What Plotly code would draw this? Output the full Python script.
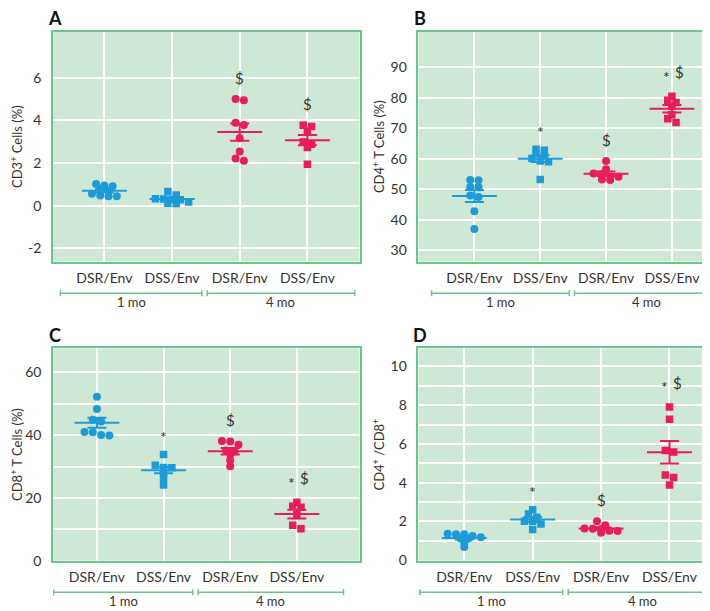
import numpy as np
import plotly.graph_objects as go

groups = ["DSR/Env", "DSS/Env", "DSR/Env", "DSS/Env"]
periods = ["1 mo", "4 mo"]

# panel A: CD3+ cells (%)
cd3_dsr_1mo = [0.79, 0.95, 0.45, 0.92, 0.48, 1.02, 0.45, 0.56, 0.70]
cd3_dss_1mo = [0.30, 0.28, 0.10, 0.67, 0.12, 0.50, 0.18, 0.33, 0.32]
cd3_dsr_4mo = [4.95, 5.00, 3.89, 3.78, 3.16, 2.54, 2.11, 2.22]
cd3_dss_4mo = [3.77, 3.50, 3.71, 2.88, 2.73, 2.99, 1.95]
cd3_marks = ["", "", "$", "$"]

# panel B: CD4+ T cells (%)
cd4_dsr_1mo = [53.0, 53.1, 50.7, 50.8, 47.5, 48.0, 42.8, 37.0]
cd4_dss_1mo = [63.1, 62.8, 61.7, 61.1, 60.1, 59.3, 59.0, 53.2]
cd4_dsr_4mo = [59.3, 56.6, 55.0, 55.2, 54.1, 54.2, 53.2, 53.1]
cd4_dss_4mo = [80.5, 79.2, 78.4, 77.3, 74.4, 73.1, 71.9]
cd4_marks = ["", "*", "$", "*$"]

# panel C: CD8+ T cells (%)
cd8_dsr_1mo = [52.2, 48.3, 44.9, 44.3, 40.9, 41.0, 39.9, 40.0]
cd8_dss_1mo = [33.8, 29.7, 29.1, 29.6, 30.4, 27.8, 26.2, 24.1]
cd8_dsr_4mo = [38.0, 38.1, 36.9, 34.8, 35.1, 33.8, 32.0, 30.1]
cd8_dss_4mo = [18.6, 17.0, 17.3, 14.7, 10.2, 11.3]
cd8_marks = ["", "*", "$", "*$"]

# panel D: CD4+/CD8+ ratio
ratio_dsr_1mo = [1.33, 1.34, 1.36, 1.12, 1.13, 0.90, 0.68, 1.18, 1.25]
ratio_dss_1mo = [2.60, 2.38, 2.21, 2.00, 2.01, 1.87, 1.58]
ratio_dsr_4mo = [2.00, 1.80, 1.62, 1.63, 1.61, 1.50, 1.51, 1.41]
ratio_dss_4mo = [7.91, 7.28, 5.58, 5.66, 4.39, 4.27, 3.88]
ratio_marks = ["", "*", "$", "*$"]

W, H = 710, 611
BG = "#cfe8d5"
BORDER = "#6cc68b"
BLUE = "#1c9bd8"
RED = "#e91c5c"
TXT = "#333333"
FONT = "Lato"

panels = [
    dict(letter="A", data=[cd3_dsr_1mo, cd3_dss_1mo, cd3_dsr_4mo, cd3_dss_4mo], marks=cd3_marks,
         title="CD3<sup>+</sup> Cells (%)", xpx=(45, 352), ypx=(24, 257),
         xr=[-0.76, 3.77], yr=[-2.62, 8.16], labels=[-2, 0, 2, 4, 6], minor=[]),
    dict(letter="B", data=[cd4_dsr_1mo, cd4_dss_1mo, cd4_dsr_4mo, cd4_dss_4mo], marks=cd4_marks,
         title="CD4<sup>+</sup> T Cells (%)", xpx=(411, 709), ypx=(24, 257),
         xr=[-0.85, 3.67], yr=[26.35, 101.6], labels=[30, 40, 50, 60, 70, 80, 90], minor=[]),
    dict(letter="C", data=[cd8_dsr_1mo, cd8_dss_1mo, cd8_dsr_4mo, cd8_dss_4mo], marks=cd8_marks,
         title="CD8<sup>+</sup> T Cells (%)", xpx=(45, 352), ypx=(345, 560),
         xr=[-0.66, 3.94], yr=[0, 67.6], labels=[0, 20, 40, 60], minor=[10, 30, 50]),
    dict(letter="D", data=[ratio_dsr_1mo, ratio_dss_1mo, ratio_dsr_4mo, ratio_dss_4mo], marks=ratio_marks,
         title="CD4<sup>+</sup> /CD8<sup>+</sup>", xpx=(411, 709), ypx=(345, 560),
         xr=[-0.67, 3.68], yr=[-0.03, 10.93], labels=[0, 2, 4, 6, 8, 10], minor=[1, 3, 5, 7, 9]),
]


def swarm(vals, ppu, step, tol=4.0):
    # Prism-like rows: points close in value share a row, centred on the category
    vals = np.asarray(vals, dtype=float)
    order = np.argsort(-vals)
    rows = []
    for i in order:
        if rows and (vals[rows[-1][0]] - vals[i]) * ppu < tol:
            rows[-1].append(i)
        else:
            rows.append([i])
    off = np.zeros(len(vals))
    for row in rows:
        n = len(row)
        for k, i in enumerate(row):
            off[i] = (k - (n - 1) / 2) * step
    return off


fig = go.Figure()
shapes = []
annotations = []

for p_i, p in enumerate(panels):
    sfx = "" if p_i == 0 else str(p_i + 1)
    xa, ya = "x" + sfx, "y" + sfx
    x0, x1 = p["xpx"]
    y0, y1 = p["ypx"]
    ppc = (x1 - x0) / (p["xr"][1] - p["xr"][0])  # px per category unit
    ppu = (y1 - y0) / (p["yr"][1] - p["yr"][0])  # px per y unit

    for j, vals in enumerate(p["data"]):
        col = BLUE if j < 2 else RED
        sym = "circle" if j % 2 == 0 else "square"
        off = swarm(vals, ppu, 8.3 / ppc)
        fig.add_trace(go.Scatter(
            x=j + off, y=vals, mode="markers", xaxis=xa, yaxis=ya, showlegend=False,
            marker=dict(color=col, symbol=sym, size=8 if sym == "circle" else 7.5, line=dict(width=0)),
        ))
        arr = np.asarray(vals, dtype=float)
        m = arr.mean()
        se = arr.std(ddof=1) / np.sqrt(len(arr))
        hw, cw = 22.5 / ppc, 9.5 / ppc
        fig.add_trace(go.Scatter(
            x=[j - hw, j + hw, None, j - cw, j + cw, None, j - cw, j + cw, None, j, j],
            y=[m, m, None, m + se, m + se, None, m - se, m - se, None, m - se, m + se],
            mode="lines", line=dict(color=col, width=2), xaxis=xa, yaxis=ya,
            showlegend=False, hoverinfo="skip",
        ))

        mark = p["marks"][j]
        top = arr.max()
        if mark == "*$":
            annotations.append(dict(x=j, y=top, xref=xa, yref=ya, text="*", showarrow=False,
                                    xshift=-5, yshift=20, font=dict(size=16, color=TXT, family=FONT)))
            annotations.append(dict(x=j, y=top, xref=xa, yref=ya, text="$", showarrow=False,
                                    xshift=8, yshift=24, font=dict(size=15, color=TXT, family=FONT)))
        elif mark:
            annotations.append(dict(x=j, y=top, xref=xa, yref=ya, text=mark, showarrow=False,
                                    yshift=21 if mark == "$" else 18,
                                    font=dict(size=15 if mark == "$" else 16, color=TXT, family=FONT)))

    # period brackets under the axis
    yb = 1 - (y1 + 32) / H
    for k, (a, b) in enumerate([(-0.65, 1.44), (1.52, 3.70)]):
        shapes.append(dict(type="line", xref=xa, yref="paper", x0=a, x1=b, y0=yb, y1=yb,
                           line=dict(color=BORDER, width=1.5)))
        for xe in (a, b):
            shapes.append(dict(type="line", xref=xa, yref="paper", x0=xe, x1=xe,
                               y0=yb - 3 / H, y1=yb + 3 / H, line=dict(color=BORDER, width=1.5)))
        annotations.append(dict(x=(a + b) / 2, y=yb - 9 / H, xref=xa, yref="paper", text=periods[k],
                                showarrow=False, yanchor="middle", borderpad=0,
                                font=dict(size=13, color=TXT, family=FONT)))

    annotations.append(dict(x=(x0 + 2) / W, y=1 - (y0 - 14) / H, xref="paper", yref="paper",
                            text="<b>" + p["letter"] + "</b>", showarrow=False, xanchor="center",
                            yanchor="middle", font=dict(size=18, color="#111111", family=FONT)))

    fig.layout["xaxis" + sfx] = dict(
        domain=[x0 / W, x1 / W], range=p["xr"], anchor=ya,
        tickvals=[0, 1, 2, 3], ticktext=groups, showgrid=True, gridcolor="white", gridwidth=1.5,
        zeroline=False, showline=True, mirror=True, linecolor=BORDER, linewidth=1.5,
        ticks="", ticklabelstandoff=3, tickfont=dict(size=14, color=TXT, family=FONT),
    )
    yaxis = dict(
        domain=[1 - y1 / H, 1 - y0 / H], range=p["yr"], anchor=xa,
        tickvals=p["labels"], ticktext=[str(v) for v in p["labels"]],
        showgrid=True, gridcolor="white", gridwidth=1.5, zeroline=False,
        showline=True, mirror=True, linecolor=BORDER, linewidth=1.5, ticks="",
        ticklabelstandoff=7, tickfont=dict(size=14, color=TXT, family=FONT),
        title=dict(text=p["title"], font=dict(size=13, color=TXT, family=FONT), standoff=3),
    )
    if p["minor"]:
        yaxis["minor"] = dict(tickvals=p["minor"], showgrid=True, gridcolor="white", gridwidth=1.5)
    fig.layout["yaxis" + sfx] = yaxis

fig.update_layout(
    width=W, height=H, margin=dict(l=0, r=0, t=0, b=0),
    paper_bgcolor="white", plot_bgcolor=BG,
    shapes=shapes, annotations=annotations, showlegend=False,
)

fig.write_html("out.html")
